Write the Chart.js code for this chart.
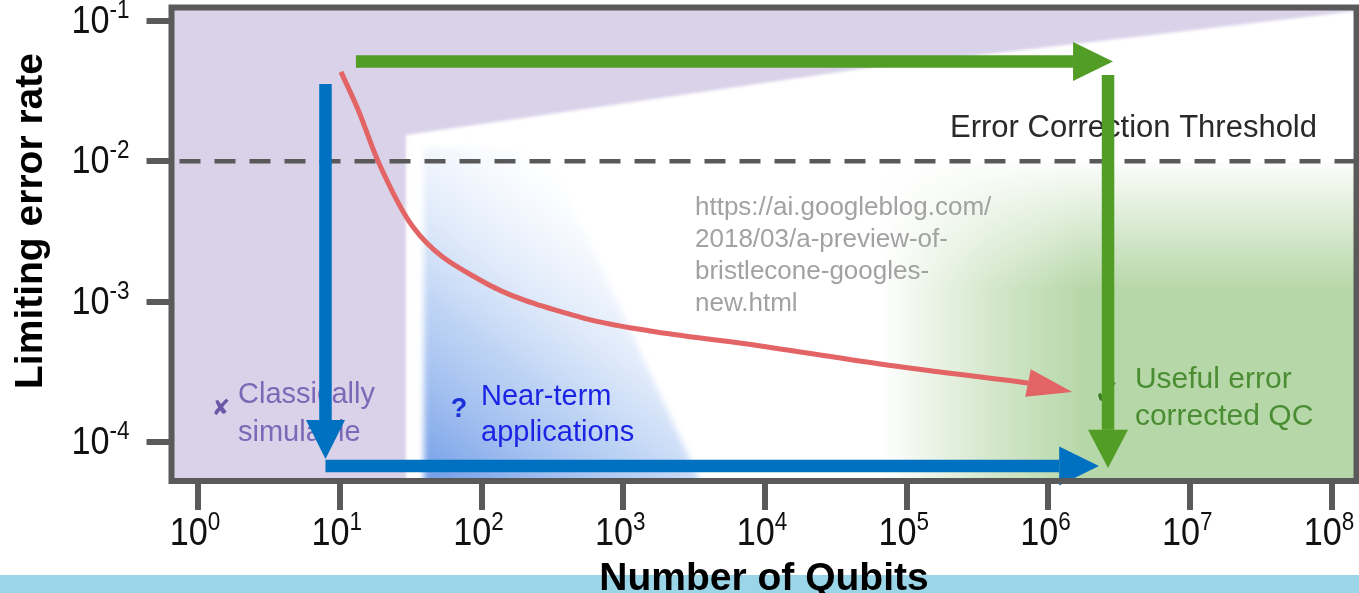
<!DOCTYPE html>
<html>
<head>
<meta charset="utf-8">
<script src="https://cdn.jsdelivr.net/npm/chart.js@4.4.1/dist/chart.umd.min.js"></script>
<style>
  html, body { margin: 0; padding: 0; background: #ffffff; overflow: hidden; }
  canvas { display: block; }
</style>
</head>
<body>
<canvas id="qc" width="1359" height="593"></canvas>
<script>
// ---- axes (number of qubits vs. limiting error rate, both logarithmic) ----
const xRange = [0.650, 1.489e8];
const yRange = [5.263e-5, 0.1248];
const xTickValues = [1, 10, 100, 1e3, 1e4, 1e5, 1e6, 1e7, 1e8];
const xTickExponents = ['0', '1', '2', '3', '4', '5', '6', '7', '8'];
const yTickValues = [1e-1, 1e-2, 1e-3, 1e-4];
const yTickExponents = ['-1', '-2', '-3', '-4'];
const thresholdRate = 0.01;

// ---- projected error-rate requirement as devices grow ----
const curveQubits = [10.2, 13.5, 18.6, 32.9, 97.6, 495, 1545, 7470, 64700, 7.17e5];
const curveError  = [0.0434, 0.0232, 0.01005, 0.0034, 0.001426, 7.76e-4, 6.17e-4, 4.99e-4, 3.59e-4, 2.63e-4];
const curveTip    = [1.47e6, 2.27e-4];

// ---- roadmap arrows: shaft [start, end] and head tip ----
const blueDownShaft  = [[7.93, 0.0356], [7.93, 1.43e-4]];
const blueDownTip    = [7.93, 7.55e-5];
const blueRightShaft = [[7.93, 6.73e-5], [1.19e6, 6.73e-5]];
const blueRightTip   = [2.27e6, 6.73e-5];
const greenRightShaft = [[13.0, 0.0514], [1.49e6, 0.0514]];
const greenRightTip   = [2.85e6, 0.0514];
const greenDownShaft  = [[2.63e6, 0.0412], [2.63e6, 1.22e-4]];
const greenDownTip    = [2.63e6, 6.52e-5];

// ---- regimes ----
const classicalZone = [[0.3, 1], [0.3, 1e-5], [29.3, 1e-5], [29.3, 0.0154], [52400, 0.0463],
                       [1.75e6, 0.0697], [1.489e8, 0.118], [1e9, 0.148], [1e9, 1]];
const nearTermZone  = [[39.3, 3.22e-5], [39.3, 0.0125], [281, 0.0125], [4365, 3.22e-5]];
const usefulZone    = [[6.5e4, 0.0099], [1e9, 0.0099], [1e9, 1e-5], [6.5e4, 1e-5]];
const usefulFadeX   = [6.5e4, 1.8e6];
const usefulFadeY   = [0.0099, 1.2e-3];
const nearFade      = [[40, 5.263e-5], [1000, 0.004]];

// ---- text ----
const thresholdLabel = ['Error Correction Threshold'];
const sourceLabel    = ['https://ai.googleblog.com/', '2018/03/a-preview-of-', 'bristlecone-googles-', 'new.html'];
const classicalLabel = ['Classically', 'simulable'];
const nearTermLabel  = ['Near-term', 'applications'];
const usefulLabel    = ['Useful error', 'corrected QC'];
const xTitle = 'Number of Qubits';
const yTitle = 'Limiting error rate';

const FONT = '"Liberation Sans", Arial, Helvetica, sans-serif';
const FRAME = '#5a5a5a';
const BLUE = '#0070c0';
const GREEN = '#529d26';
const RED = '#e26464';

const pts = arr => arr.map(([x, y]) => ({ x, y }));

function px(chart, v) { return [chart.scales.x.getPixelForValue(v[0]), chart.scales.y.getPixelForValue(v[1])]; }

function tracePolygon(chart, ctx, poly) {
  ctx.beginPath();
  poly.forEach((p, i) => {
    const [a, b] = px(chart, p);
    if (i === 0) ctx.moveTo(a, b); else ctx.lineTo(a, b);
  });
  ctx.closePath();
}

// background regimes, drawn under every dataset
const zonesPlugin = {
  id: 'zones',
  beforeDatasetsDraw(chart) {
    const { ctx, chartArea: ca } = chart;
    ctx.save();
    ctx.beginPath();
    ctx.rect(ca.left, ca.top, ca.right - ca.left, ca.bottom - ca.top);
    ctx.clip();

    // classically simulable
    ctx.filter = 'blur(1.5px)';
    tracePolygon(chart, ctx, classicalZone);
    ctx.fillStyle = '#d9d2e9';
    ctx.fill();

    // near-term applications
    ctx.filter = 'blur(3px)';
    const [b0x, b0y] = px(chart, nearFade[0]);
    const [b1x, b1y] = px(chart, nearFade[1]);
    const bg = ctx.createLinearGradient(b0x, b0y, b1x, b1y);
    bg.addColorStop(0, 'rgba(108,152,230,0.95)');
    bg.addColorStop(0.45, 'rgba(150,185,238,0.6)');
    bg.addColorStop(1, 'rgba(205,222,248,0)');
    tracePolygon(chart, ctx, nearTermZone);
    ctx.fillStyle = bg;
    ctx.fill();
    ctx.filter = 'none';

    // useful error-corrected QC
    const gx0 = chart.scales.x.getPixelForValue(usefulFadeX[0]);
    const gx1 = chart.scales.x.getPixelForValue(usefulFadeX[1]);
    const gg = ctx.createLinearGradient(gx0, 0, gx1, 0);
    gg.addColorStop(0, 'rgba(182,215,168,0)');
    gg.addColorStop(0.55, 'rgba(182,215,168,0.6)');
    gg.addColorStop(1, 'rgba(182,215,168,1)');
    tracePolygon(chart, ctx, usefulZone);
    ctx.fillStyle = gg;
    ctx.fill();
    const gy0 = chart.scales.y.getPixelForValue(usefulFadeY[0]);
    const gy1 = chart.scales.y.getPixelForValue(usefulFadeY[1]);
    const gh = ctx.createLinearGradient(0, gy0, 0, gy1);
    gh.addColorStop(0, 'rgba(255,255,255,0.95)');
    gh.addColorStop(1, 'rgba(255,255,255,0)');
    tracePolygon(chart, ctx, usefulZone);
    ctx.fillStyle = gh;
    ctx.fill();
    ctx.restore();

    // labels inside the plot
    const notes = chart.options.plugins.notes.items;
    notes.forEach(n => {
      const [x0, y0] = px(chart, n.at);
      ctx.save();
      ctx.font = n.font;
      ctx.fillStyle = n.color;
      ctx.textAlign = n.align || 'left';
      ctx.textBaseline = n.baseline || 'alphabetic';
      n.lines.forEach((t, i) => ctx.fillText(t, x0, y0 + i * (n.lineHeight || 0)));
      ctx.restore();
    });
  }
};

// arrow heads, drawn right after their own shaft
const headsPlugin = {
  id: 'heads',
  afterDatasetDraw(chart, args) {
    const ds = chart.data.datasets[args.index];
    if (!ds.head) return;
    const els = args.meta.data;
    const base = els[els.length - 1];
    const [tx, ty] = px(chart, ds.head);
    const dx = tx - base.x, dy = ty - base.y;
    const len = Math.hypot(dx, dy);
    const nx = -dy / len, ny = dx / len;
    const hw = ds.headWidth / 2;
    const ctx = chart.ctx;
    ctx.save();
    ctx.beginPath();
    ctx.moveTo(tx, ty);
    ctx.lineTo(base.x + nx * hw, base.y + ny * hw);
    ctx.lineTo(base.x - nx * hw, base.y - ny * hw);
    ctx.closePath();
    ctx.fillStyle = ds.borderColor;
    ctx.fill();
    ctx.restore();
  }
};

function drawPower(ctx, exp, anchorX, baseline, align) {
  const sx = 0.9;
  const main = '38px ' + FONT, sup = '25px ' + FONT;
  ctx.font = main;
  const w1 = ctx.measureText('10').width * sx;
  ctx.font = sup;
  const w2 = ctx.measureText(exp).width * sx;
  const gap = 0;
  const total = w1 + gap + w2;
  const left = align === 'center' ? anchorX - total / 2 : anchorX - total;
  ctx.save();
  ctx.translate(left, baseline);
  ctx.scale(sx, 1);
  ctx.fillStyle = '#111111';
  ctx.textAlign = 'left';
  ctx.textBaseline = 'alphabetic';
  ctx.font = main;
  ctx.fillText('10', 0, 0);
  ctx.font = sup;
  ctx.fillText(exp, (w1 + gap) / sx, -15);
  ctx.restore();
}

// page backdrop, frame, tick labels and axis titles
const frameplugin = {
  id: 'frame',
  beforeDraw(chart) {
    const { ctx, width, height } = chart;
    ctx.save();
    ctx.fillStyle = '#ffffff';
    ctx.fillRect(0, 0, width, height);
    ctx.fillStyle = '#9bd5e8';
    ctx.fillRect(0, 575, width, height - 575);
    ctx.restore();
  },
  afterDraw(chart) {
    const { ctx, chartArea: ca } = chart;
    ctx.save();
    ctx.strokeStyle = FRAME;
    ctx.lineWidth = 6;
    ctx.strokeRect(ca.left, ca.top, ca.right - ca.left, ca.bottom - ca.top);

    xTickValues.forEach((v, i) => {
      const x = chart.scales.x.getPixelForValue(v);
      drawPower(ctx, xTickExponents[i], x - 3, ca.bottom + 64, 'center');
    });
    yTickValues.forEach((v, i) => {
      const y = chart.scales.y.getPixelForValue(v);
      drawPower(ctx, yTickExponents[i], ca.left - 42, y + 12, 'right');
    });

    ctx.fillStyle = '#000000';
    ctx.font = 'bold 39px ' + FONT;
    ctx.textAlign = 'center';
    ctx.textBaseline = 'alphabetic';
    ctx.fillText(xTitle, (ca.left + ca.right) / 2, 590);

    ctx.translate(42, 221);
    ctx.rotate(-Math.PI / 2);
    ctx.fillText(yTitle, 0, 0);
    ctx.restore();
  }
};

const arrowStyle = { showLine: true, borderWidth: 12.5, borderCapStyle: 'butt', pointRadius: 0, fill: false };

new Chart(document.getElementById('qc'), {
  type: 'scatter',
  data: {
    datasets: [
      Object.assign({ label: 'to useful QC (qubits)', data: pts(greenDownShaft), head: greenDownTip,
        borderColor: GREEN, headWidth: 40, order: 0 }, arrowStyle),
      Object.assign({ label: 'scale qubits', data: pts(greenRightShaft), head: greenRightTip,
        borderColor: GREEN, headWidth: 39, order: 1 }, arrowStyle),
      Object.assign({ label: 'lower error', data: pts(blueRightShaft), head: blueRightTip,
        borderColor: BLUE, headWidth: 39, order: 2 }, arrowStyle),
      Object.assign({ label: 'lower error first', data: pts(blueDownShaft), head: blueDownTip,
        borderColor: BLUE, headWidth: 39, order: 3 }, arrowStyle),
      { label: 'required error rate', data: curveQubits.map((q, i) => ({ x: q, y: curveError[i] })),
        head: curveTip, headWidth: 28, showLine: true, borderColor: RED, borderWidth: 5,
        cubicInterpolationMode: 'monotone', borderCapStyle: 'butt', borderJoinStyle: 'round',
        pointRadius: 0, fill: false, order: 4 },
      { label: 'threshold', data: [{ x: xRange[0], y: thresholdRate }, { x: xRange[1], y: thresholdRate }],
        showLine: true, borderColor: '#595959', borderWidth: 4.5, borderDash: [21, 14], borderDashOffset: 27,
        pointRadius: 0, fill: false, order: 5 }
    ]
  },
  options: {
    responsive: false,
    animation: false,
    events: [],
    layout: { padding: { left: 0, right: 2.5, top: 7.5, bottom: 0 } },
    plugins: {
      legend: { display: false },
      tooltip: { enabled: false },
      notes: {
        items: [
          { lines: thresholdLabel, at: [2.02e5, 0.0149], font: '31px ' + FONT, color: '#2a2a2a' },
          { lines: sourceLabel, at: [3207, 0.00414], lineHeight: 32, font: '26px ' + FONT, color: '#a2a2a2' },
          { lines: classicalLabel, at: [1.915, 1.89e-4], lineHeight: 38, font: '29px ' + FONT, color: '#7b69b7' },
          { lines: ['\u2718'], at: [1.45, 1.72e-4], align: 'center', baseline: 'middle',
            font: '22px "DejaVu Sans", sans-serif', color: '#6a57a8' },
          { lines: nearTermLabel, at: [99.2, 1.83e-4], lineHeight: 36, font: '29px ' + FONT, color: '#1c24e4' },
          { lines: ['?'], at: [69.4, 1.69e-4], align: 'center', baseline: 'middle',
            font: 'bold 27px ' + FONT, color: '#1a30d8' },
          { lines: usefulLabel, at: [4.07e6, 2.42e-4], lineHeight: 37, font: '30px ' + FONT, color: '#4b8d33' },
          { lines: ['\u2713'], at: [2.6e6, 2.16e-4], align: 'center', baseline: 'middle',
            font: '34px "DejaVu Sans", sans-serif', color: '#3b7a25' }
        ]
      }
    },
    scales: {
      x: {
        type: 'logarithmic', position: 'bottom', min: xRange[0], max: xRange[1], bounds: 'data',
        afterBuildTicks: s => { s.ticks = xTickValues.map(v => ({ value: v })); },
        afterFit: s => { s.height = 112; },
        ticks: { display: false },
        grid: { drawOnChartArea: false, drawTicks: true, tickLength: 29, tickWidth: 6, tickColor: FRAME, color: FRAME, lineWidth: 6 },
        border: { display: false }
      },
      y: {
        type: 'logarithmic', position: 'left', min: yRange[0], max: yRange[1], bounds: 'data',
        afterBuildTicks: s => { s.ticks = yTickValues.map(v => ({ value: v })); },
        afterFit: s => { s.width = 171.5; },
        ticks: { display: false },
        grid: { drawOnChartArea: false, drawTicks: true, tickLength: 25, tickWidth: 6, tickColor: FRAME, color: FRAME, lineWidth: 6 },
        border: { display: false }
      }
    }
  },
  plugins: [frameplugin, zonesPlugin, headsPlugin]
});
</script>
</body>
</html>
